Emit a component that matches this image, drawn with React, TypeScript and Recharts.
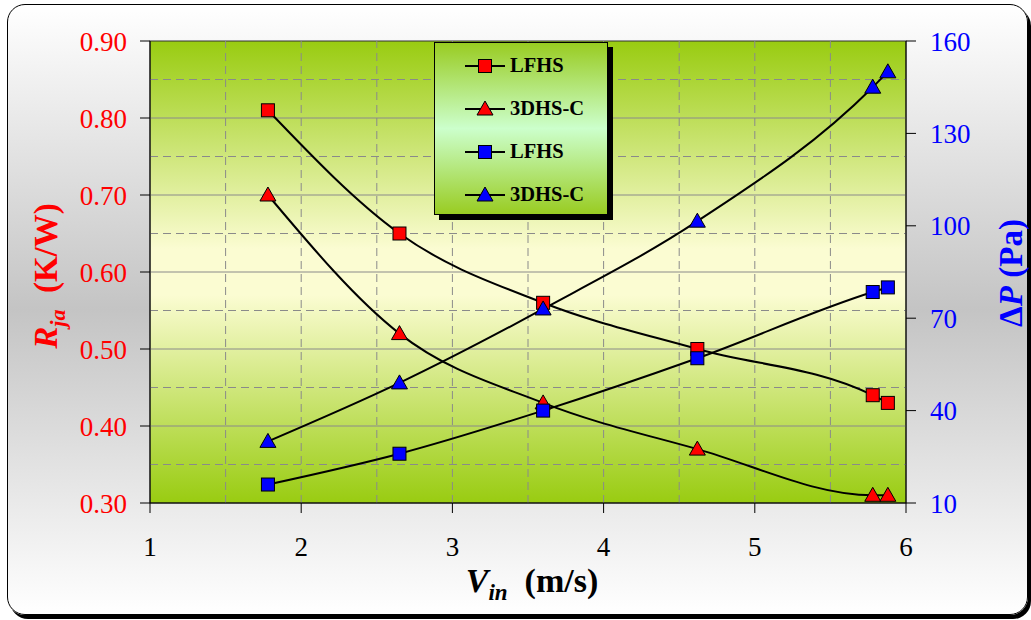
import React from 'react';
import { ComposedChart, Line, XAxis, YAxis, ReferenceLine, ReferenceArea, Legend } from 'recharts';

const vin = [1.78, 2.65, 3.6, 4.62, 5.78, 5.88];
const rjaLFHS = [0.81, 0.65, 0.56, 0.5, 0.44, 0.43];
const rja3DHS = [0.7, 0.52, 0.43, 0.37, 0.31, 0.31];
const dpLFHS = [16, 26, 40, 57, 78.5, 80];
const dp3DHS = [30, 49, 73, 101.5, 145, 150];

const xTicks = [1, 2, 3, 4, 5, 6];
const leftTicks = [0.3, 0.4, 0.5, 0.6, 0.7, 0.8, 0.9];
const rightTicks = [10, 40, 70, 100, 130, 160];
const hMajor = [0.4, 0.5, 0.6, 0.7, 0.8];
const hMinor = [0.35, 0.45, 0.55, 0.65, 0.75, 0.85];
const vGrid = [1.5, 2, 2.5, 3, 3.5, 4, 4.5, 5, 5.5];

const seriesNames = ['LFHS', '3DHS-C', 'LFHS', '3DHS-C'];

const data = vin.map((v, i) => ({
  v,
  rL: rjaLFHS[i],
  rC: rja3DHS[i],
  pL: dpLFHS[i],
  pC: dp3DHS[i],
}));

const FONT = '"Liberation Serif", "Times New Roman", serif';

const squareDot = (color: string) => (props: any) => {
  const { cx, cy, index } = props;
  if (cx == null || cy == null) return <g key={`s${index}`} />;
  return (
    <rect key={`s${color}${index}`} x={cx - 6.5} y={cy - 6.5} width={13} height={13} fill={color} stroke="#000" strokeWidth={1} />
  );
};

const triDot = (color: string) => (props: any) => {
  const { cx, cy, index } = props;
  if (cx == null || cy == null) return <g key={`t${index}`} />;
  return (
    <polygon
      key={`t${color}${index}`}
      points={`${cx},${cy - 8} ${cx + 8},${cy + 6} ${cx - 8},${cy + 6}`}
      fill={color}
      stroke="#000"
      strokeWidth={1}
    />
  );
};

const legendItems = [
  { name: seriesNames[0], color: '#ff0000', shape: 'square' },
  { name: seriesNames[1], color: '#ff0000', shape: 'tri' },
  { name: seriesNames[2], color: '#0000ff', shape: 'square' },
  { name: seriesNames[3], color: '#0000ff', shape: 'tri' },
];

const LegendBox = () => (
  <div
    style={{
      width: 174,
      height: 173,
      boxSizing: 'border-box',
      border: '1px solid #000',
      boxShadow: '5px 5px 0 #000',
      background: 'linear-gradient(to bottom, #99cc22 0%, #ccffcc 50%, #99cc22 100%)',
      paddingTop: 1,
    }}
  >
    {legendItems.map((it, i) => (
      <div key={i} style={{ display: 'flex', alignItems: 'center', height: 43, marginLeft: 30 }}>
        <svg width={42} height={20} style={{ display: 'block' }}>
          <line x1={0} y1={10} x2={40} y2={10} stroke="#000" strokeWidth={2} />
          {it.shape === 'square' ? (
            <rect x={13.5} y={3.5} width={13} height={13} fill={it.color} stroke="#000" strokeWidth={1} />
          ) : (
            <polygon points="20,2 28,16 12,16" fill={it.color} stroke="#000" strokeWidth={1} />
          )}
        </svg>
        <span style={{ fontFamily: FONT, fontWeight: 'bold', fontSize: 20.5, color: '#000', marginLeft: 3 }}>{it.name}</span>
      </div>
    ))}
  </div>
);

const plotShape = (props: any) => {
  const { x, y, width, height } = props;
  return (
    <g>
      <defs>
        <linearGradient id="plotBg" x1="0" y1="0" x2="0" y2="1">
          <stop offset="0%" stopColor="#99cc11" />
          <stop offset="45%" stopColor="#fbfcd2" />
          <stop offset="55%" stopColor="#fbfcd2" />
          <stop offset="100%" stopColor="#99cc11" />
        </linearGradient>
      </defs>
      <rect x={x} y={y} width={width} height={height} fill="url(#plotBg)" stroke="#333" strokeWidth={1} />
    </g>
  );
};

const leftLabel = (props: any) => {
  const vb = props.viewBox || { x: 0, y: 41, width: 150, height: 462 };
  const cx = vb.x + 57;
  const cy = vb.y + vb.height / 2 + 4;
  return (
    <text transform={`translate(${cx},${cy}) rotate(-90)`} textAnchor="middle" fill="#ff0000" fontFamily={FONT} fontWeight="bold" fontSize={33}>
      <tspan fontStyle="italic">R</tspan>
      <tspan fontStyle="italic" fontSize={22} dy={8}>ja</tspan>
      <tspan dy={-8}>{'\u00a0\u00a0(K/W)'}</tspan>
    </text>
  );
};

const rightLabel = (props: any) => {
  const vb = props.viewBox || { x: 906, y: 41, width: 125, height: 462 };
  const cx = vb.x + 116;
  const cy = vb.y + vb.height / 2 + 1;
  return (
    <text transform={`translate(${cx},${cy}) rotate(-90)`} textAnchor="middle" fill="#0000ff" fontFamily={FONT} fontWeight="bold" fontSize={33}>
      <tspan>Δ</tspan>
      <tspan fontStyle="italic">P</tspan>
      <tspan>{'\u00a0(Pa)'}</tspan>
    </text>
  );
};

const bottomLabel = (props: any) => {
  const vb = props.viewBox || { x: 150, y: 503, width: 756, height: 117 };
  const cx = vb.x + vb.width / 2 + 4;
  const cy = vb.y + 89;
  return (
    <text x={cx} y={cy} textAnchor="middle" fill="#000" fontFamily={FONT} fontWeight="bold" fontSize={34}>
      <tspan fontStyle="italic">V</tspan>
      <tspan fontStyle="italic" fontSize={23} dy={8}>in</tspan>
      <tspan dy={-8}>{'\u00a0\u00a0(m/s)'}</tspan>
    </text>
  );
};

export default function App() {
  return (
    <div style={{ position: 'absolute', left: 0, top: 0, width: 1031, height: 620 }}>
      <div
        style={{
          position: 'absolute',
          left: 7,
          top: 4,
          width: 1021,
          height: 611,
          boxSizing: 'border-box',
          border: '1.5px solid #000',
          borderRadius: 18,
          boxShadow: '3px 4px 0 #000',
          background: 'linear-gradient(to bottom, #ffffff 0%, #c4c4c4 50%, #ffffff 100%)',
        }}
      />
      <div style={{ position: 'absolute', left: 0, top: 0 }}>
        <ComposedChart width={1031} height={620} data={data} margin={{ top: 41, right: 0, left: 0, bottom: 0 }}>
          <XAxis
            dataKey="v"
            type="number"
            domain={[1, 6]}
            ticks={xTicks}
            allowDataOverflow
            tickSize={10}
            tickMargin={24}
            height={117}
            axisLine={{ stroke: '#000' }}
            tickLine={{ stroke: '#000' }}
            tick={{ fill: '#000', fontSize: 27, fontFamily: FONT }}
            label={{ content: bottomLabel }}
          />
          <YAxis
            yAxisId="left"
            orientation="left"
            type="number"
            domain={[0.3, 0.9]}
            ticks={leftTicks}
            allowDataOverflow
            width={150}
            tickSize={10}
            tickMargin={13}
            axisLine={{ stroke: '#000' }}
            tickLine={{ stroke: '#000' }}
            tickFormatter={(v: number) => v.toFixed(2)}
            tick={{ fill: '#ff0000', fontSize: 27, fontFamily: FONT }}
            label={{ content: leftLabel }}
          />
          <YAxis
            yAxisId="right"
            orientation="right"
            type="number"
            domain={[10, 160]}
            ticks={rightTicks}
            allowDataOverflow
            width={125}
            tickSize={10}
            tickMargin={14}
            axisLine={{ stroke: '#000' }}
            tickLine={{ stroke: '#000' }}
            tick={{ fill: '#0000ff', fontSize: 27, fontFamily: FONT }}
            label={{ content: rightLabel }}
          />
          <ReferenceArea yAxisId="left" x1={1} x2={6} y1={0.3} y2={0.9} shape={plotShape} ifOverflow="visible" />
          {hMinor.map((h) => (
            <ReferenceLine key={`hm${h}`} yAxisId="left" y={h} stroke="#8a8a8a" strokeWidth={1} strokeDasharray="8 5" />
          ))}
          {hMajor.map((h) => (
            <ReferenceLine key={`hM${h}`} yAxisId="left" y={h} stroke="#8a8a8a" strokeWidth={1} />
          ))}
          {vGrid.map((x) => (
            <ReferenceLine key={`v${x}`} yAxisId="left" x={x} stroke="#8a8a8a" strokeWidth={1} strokeDasharray="8 5" />
          ))}
          <Line yAxisId="left" dataKey="rL" type="monotone" stroke="#000" strokeWidth={2} dot={squareDot('#ff0000')} isAnimationActive={false} />
          <Line yAxisId="left" dataKey="rC" type="monotone" stroke="#000" strokeWidth={2} dot={triDot('#ff0000')} isAnimationActive={false} />
          <Line yAxisId="right" dataKey="pL" type="monotone" stroke="#000" strokeWidth={2} dot={squareDot('#0000ff')} isAnimationActive={false} />
          <Line yAxisId="right" dataKey="pC" type="monotone" stroke="#000" strokeWidth={2} dot={triDot('#0000ff')} isAnimationActive={false} />
          <Legend
            layout="horizontal"
            verticalAlign="middle"
            align="center"
            content={() => <LegendBox />}
            wrapperStyle={{ position: 'absolute', left: 434, top: 42, width: 174, height: 173, margin: 0 }}
          />
        </ComposedChart>
      </div>
    </div>
  );
}
